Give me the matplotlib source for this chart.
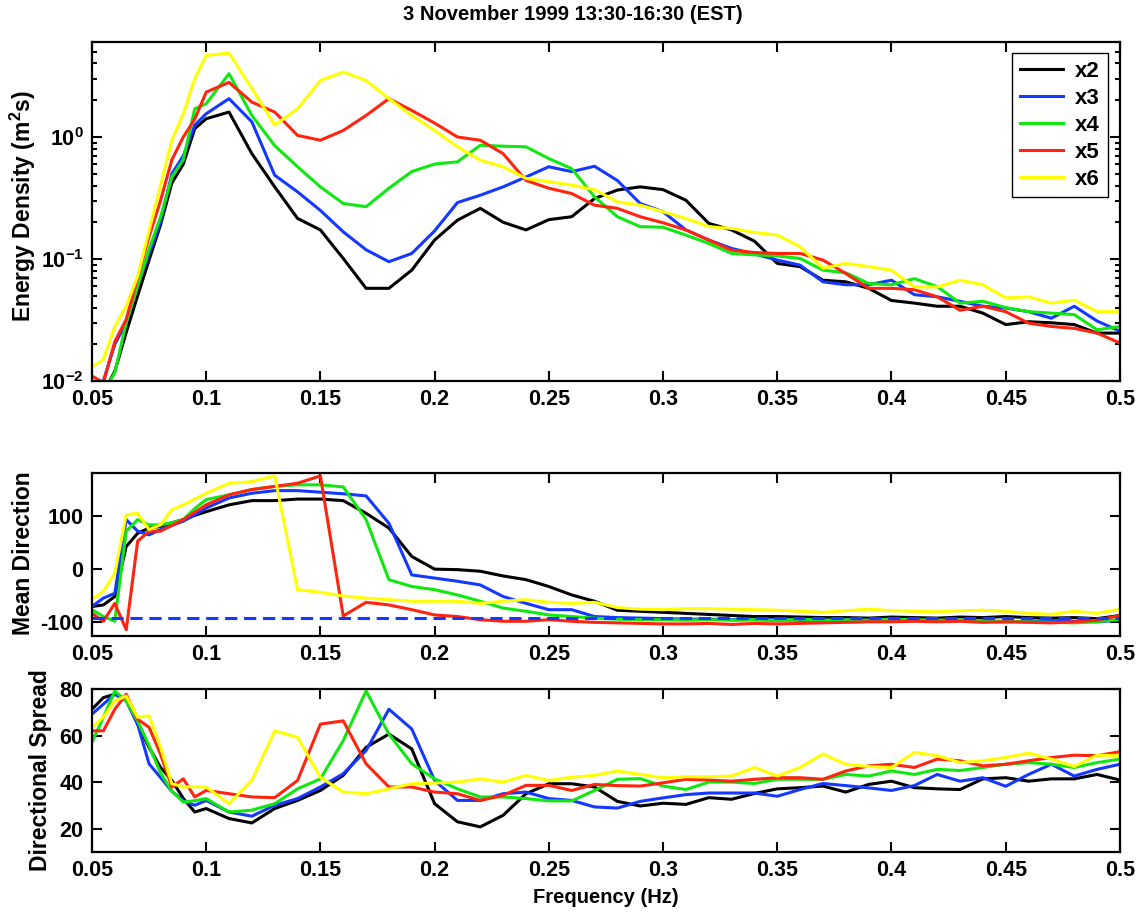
import matplotlib
matplotlib.use('Agg')
import matplotlib.pyplot as plt
from matplotlib.ticker import FixedLocator, FixedFormatter, LogLocator, NullFormatter, NullLocator

plt.rcParams['font.family'] = ['Liberation Sans', 'DejaVu Sans']
plt.rcParams['font.weight'] = 'bold'
plt.rcParams['axes.unicode_minus'] = False
plt.rcParams['mathtext.fontset'] = 'custom'
plt.rcParams['mathtext.bf'] = 'Liberation Sans:bold'
plt.rcParams['mathtext.rm'] = 'Liberation Sans:bold'
plt.rcParams['mathtext.default'] = 'bf'

# frequency bins (Hz)
freq = [0.05, 0.055, 0.06, 0.065, 0.07, 0.075, 0.08, 0.085, 0.09, 0.095, 0.1,
        0.11, 0.12, 0.13, 0.14, 0.15, 0.16, 0.17, 0.18, 0.19, 0.2,
        0.21, 0.22, 0.23, 0.24, 0.25, 0.26, 0.27, 0.28, 0.29, 0.3,
        0.31, 0.32, 0.33, 0.34, 0.35, 0.36, 0.37, 0.38, 0.39, 0.4,
        0.41, 0.42, 0.43, 0.44, 0.45, 0.46, 0.47, 0.48, 0.49, 0.5]

labels = ['x2', 'x3', 'x4', 'x5', 'x6']
colors = ['black', '#1438ff', '#10e810', '#ff2410', '#ffff00']

# energy density (m^2 s)
energy_x2 = [0.008, 0.008, 0.012, 0.025, 0.05, 0.098, 0.19, 0.42, 0.6, 1.17, 1.41,
             1.6, 0.73, 0.39, 0.215, 0.173, 0.101, 0.0575, 0.0575, 0.081, 0.143,
             0.208, 0.26, 0.2, 0.173, 0.21, 0.222, 0.313, 0.367, 0.39, 0.37,
             0.303, 0.196, 0.173, 0.14, 0.092, 0.0865, 0.067, 0.065, 0.0575, 0.0457,
             0.0435, 0.041, 0.041, 0.036, 0.029, 0.0306, 0.030, 0.029, 0.0247, 0.0247]
energy_x3 = [0.008, 0.01, 0.02, 0.03, 0.06, 0.11, 0.2, 0.5, 0.7, 1.25, 1.55,
             2.06, 1.33, 0.486, 0.355, 0.25, 0.167, 0.119, 0.095, 0.111, 0.17,
             0.29, 0.333, 0.39, 0.47, 0.57, 0.52, 0.575, 0.44, 0.285, 0.244,
             0.173, 0.143, 0.122, 0.11, 0.098, 0.089, 0.065, 0.0615, 0.0615, 0.067,
             0.051, 0.049, 0.045, 0.041, 0.0396, 0.037, 0.0327, 0.041, 0.031, 0.0256]
energy_x4 = [0.007, 0.008, 0.0117, 0.03, 0.06, 0.12, 0.22, 0.47, 0.65, 1.7, 1.87,
             3.3, 1.5, 0.85, 0.57, 0.39, 0.285, 0.268, 0.38, 0.52, 0.6,
             0.625, 0.855, 0.84, 0.83, 0.665, 0.55, 0.323, 0.222, 0.184, 0.182,
             0.157, 0.134, 0.111, 0.108, 0.106, 0.101, 0.081, 0.077, 0.063, 0.0615,
             0.069, 0.0594, 0.0435, 0.045, 0.040, 0.037, 0.036, 0.035, 0.0263, 0.028]
energy_x5 = [0.011, 0.0097, 0.021, 0.032, 0.07, 0.152, 0.3, 0.65, 1.0, 1.4, 2.33,
             2.8, 1.93, 1.6, 1.03, 0.94, 1.13, 1.5, 2.06, 1.65, 1.3,
             1.0, 0.94, 0.73, 0.44, 0.38, 0.344, 0.276, 0.26, 0.222, 0.198,
             0.173, 0.143, 0.118, 0.113, 0.111, 0.111, 0.098, 0.076, 0.0575, 0.0575,
             0.056, 0.049, 0.038, 0.041, 0.037, 0.0298, 0.028, 0.027, 0.0247, 0.0205]
energy_x6 = [0.013, 0.015, 0.028, 0.041, 0.072, 0.17, 0.4, 0.94, 1.55, 3.0, 4.65,
             4.86, 2.5, 1.25, 1.7, 2.9, 3.4, 2.9, 2.06, 1.5, 1.13,
             0.83, 0.645, 0.57, 0.457, 0.43, 0.403, 0.37, 0.294, 0.276, 0.244,
             0.215, 0.184, 0.178, 0.165, 0.157, 0.126, 0.084, 0.092, 0.0865, 0.081,
             0.059, 0.059, 0.067, 0.0615, 0.048, 0.049, 0.0435, 0.046, 0.037, 0.037]

# mean direction (deg)
dir_x2 = [-71, -68, -52, 43, 68, 78, 81, 88, 94, 102, 109,
          122, 130, 130, 133, 133, 130, 106, 78, 24, 0,
          -1, -4, -13, -20, -33, -49, -61, -78, -80, -82,
          -84, -86, -88, -90, -90, -91, -92, -92, -93, -91,
          -92, -93, -91, -92, -90, -92, -93, -92, -94, -88]
dir_x3 = [-71, -55, -46, 94, 72, 65, 75, 83, 91, 103, 116,
          135, 144, 149, 149, 146, 143, 139, 87, -11, -17,
          -23, -30, -52, -65, -77, -77, -90, -92, -93, -94,
          -95, -95, -96, -96, -96, -97, -97, -96, -97, -96,
          -97, -98, -97, -99, -100, -99, -98, -99, -100, -97]
dir_x4 = [-77, -90, -99, 72, 94, 84, 84, 88, 94, 115, 132,
          141, 151, 157, 160, 160, 156, 94, -20, -33, -39,
          -49, -61, -74, -80, -87, -90, -93, -95, -96, -96,
          -97, -96, -97, -96, -98, -95, -97, -96, -97, -95,
          -96, -97, -96, -98, -99, -100, -101, -102, -100, -95]
dir_x5 = [-84, -99, -65, -115, 53, 72, 72, 83, 94, 108, 122,
          141, 151, 157, 163, 177, -89, -63, -68, -77, -87,
          -90, -96, -99, -99, -96, -99, -101, -102, -103, -104,
          -104, -103, -105, -103, -104, -103, -102, -101, -100, -100,
          -99, -100, -99, -101, -100, -101, -102, -100, -97, -88]
dir_x6 = [-58, -42, -8, 103, 106, 75, 84, 113, 122, 133, 144,
          163, 166, 177, -39, -44, -51, -55, -58, -61, -61,
          -61, -65, -61, -58, -63, -65, -63, -73, -76, -77,
          -75, -75, -76, -77, -78, -80, -82, -79, -76, -79,
          -80, -81, -79, -78, -80, -84, -86, -80, -84, -76]
shore_normal = -92

# directional spread (deg)
spread_x2 = [71.4, 76.4, 77.9, 75.7, 65, 55, 46.4, 40.7, 33, 27.1, 28.6,
             24.3, 22.4, 28.6, 32.1, 36.4, 42.9, 55, 60.7, 54.3, 30.7,
             22.9, 20.7, 25.7, 35, 39.3, 39.3, 37.9, 31.7, 29.7, 30.9,
             30.4, 33.3, 32.6, 35.1, 37.1, 37.6, 38.3, 35.7, 39, 40.4,
             37.6, 37.1, 36.8, 41.4, 41.9, 40.4, 41.4, 41.4, 43.3, 40.9]
spread_x3 = [69.3, 73.6, 77.9, 75, 65, 47.9, 42, 36, 32, 30, 32.1,
             27.1, 25.3, 30, 32.9, 37.9, 43.6, 53.6, 71.4, 62.9, 40.7,
             32.1, 32.1, 35, 35.7, 32.9, 32.1, 29.3, 28.8, 31.7, 33.2,
             34.6, 35.3, 35.3, 35.3, 33.9, 36.8, 39.4, 38.5, 37.5, 36.4,
             38.5, 43.3, 40.4, 41.9, 38.2, 43.3, 47.7, 42.6, 45.5, 47.7]
spread_x4 = [57.1, 67.9, 79.3, 75, 66.4, 55.7, 44, 36, 31.4, 32, 32.9,
             27.1, 27.9, 30.7, 37.1, 41.4, 57.9, 79.3, 60.7, 47.9, 41.4,
             37.1, 33.6, 33.6, 32.9, 31.9, 31.9, 36.4, 41.2, 41.5, 38.3,
             36.8, 40, 40, 39.4, 41.2, 41.2, 41.2, 43.3, 42.6, 44.8,
             43.3, 45.5, 45, 46.3, 47.7, 48.4, 47.7, 46.3, 48.4, 49.9]
spread_x5 = [62.1, 62.1, 71.4, 77.9, 67.1, 63.6, 52.1, 37.9, 41.4, 33.6, 36.4,
             35, 33.6, 33.3, 40.7, 65, 66.4, 47.9, 37.9, 37.9, 35.7,
             35, 32.1, 34.3, 38.6, 38.6, 36.4, 39, 38.5, 38.3, 39.7,
             41.2, 40.9, 40.4, 41.2, 41.9, 41.9, 41.2, 44.8, 47, 47.7,
             46.3, 49.9, 49.2, 47, 47.7, 49.2, 50.6, 51.6, 51.4, 53.1]
spread_x6 = [63.6, 67.9, 75, 77.1, 67.9, 68.6, 55, 39.3, 37.9, 38, 37.9,
             30.7, 40.7, 62.1, 59.3, 42.1, 35.7, 35, 37.1, 39.3, 39.6,
             40, 41.4, 40, 42.9, 40.7, 42.1, 42.9, 44.8, 43.3, 41.9,
             42.3, 42.3, 42.6, 46.3, 42.6, 46.3, 52.1, 47.7, 46.7, 46.3,
             52.8, 51.4, 48.4, 49.2, 50.6, 52.5, 49.9, 46.7, 51.6, 51.4]

xticks = [0.05, 0.1, 0.15, 0.2, 0.25, 0.3, 0.35, 0.4, 0.45, 0.5]
xtick_labels = ['0.05', '0.1', '0.15', '0.2', '0.25', '0.3', '0.35', '0.4', '0.45', '0.5']
energy_ticks = [0.01, 0.1, 1]
energy_tick_labels = ['$10^{-2}$', '$10^{-1}$', '$10^{0}$']

TICK_FS = 15.5
YLABEL_FS = 16.5


def style_axis(ax):
    ax.set_xlim(0.05, 0.5)
    ax.xaxis.set_major_locator(FixedLocator(xticks))
    ax.xaxis.set_major_formatter(FixedFormatter(xtick_labels))
    ax.xaxis.set_minor_locator(NullLocator())
    ax.tick_params(which='both', direction='in', top=True, right=True,
                   width=1.5, labelsize=TICK_FS)
    ax.tick_params(which='major', length=7, pad=6)
    ax.tick_params(which='minor', length=3.5)
    for sp in ax.spines.values():
        sp.set_linewidth(1.6)


def main():
    fig = plt.figure(figsize=(11.45, 9.17), dpi=100)
    ax1 = fig.add_axes([0.0803, 0.5845, 0.8978, 0.3697])
    ax2 = fig.add_axes([0.0803, 0.3064, 0.8978, 0.1781])
    ax3 = fig.add_axes([0.0803, 0.0712, 0.8978, 0.1771])

    energies = [energy_x2, energy_x3, energy_x4, energy_x5, energy_x6]
    directions = [dir_x2, dir_x3, dir_x4, dir_x5, dir_x6]
    spreads = [spread_x2, spread_x3, spread_x4, spread_x5, spread_x6]

    for lab, col, e, d, s in zip(labels, colors, energies, directions, spreads):
        ax1.plot(freq, e, color=col, lw=2.2, label=lab)
        ax2.plot(freq, d, color=col, lw=2.2)
        ax3.plot(freq, s, color=col, lw=2.2)
    ax2.axhline(shore_normal, color='#1438ff', lw=2.2, linestyle=(0, (4, 2.2)))

    ax1.set_yscale('log')
    ax1.set_ylim(0.01, 6)
    style_axis(ax1)
    ax1.yaxis.set_major_locator(FixedLocator(energy_ticks))
    ax1.yaxis.set_major_formatter(FixedFormatter(energy_tick_labels))
    ax1.yaxis.set_minor_locator(LogLocator(base=10, subs=range(2, 10)))
    ax1.yaxis.set_minor_formatter(NullFormatter())
    ax1.set_ylabel('Energy Density (m$^{2}$s)', fontsize=YLABEL_FS, fontweight='bold')
    ax1.yaxis.set_label_coords(-0.0525, 0.516)
    leg = ax1.legend(loc='upper right', bbox_to_anchor=(0.988, 0.968),
                     borderaxespad=0, fancybox=False, framealpha=1,
                     edgecolor='black', fontsize=16, handlelength=1.95,
                     labelspacing=0.27, borderpad=0.35, handletextpad=0.55)
    leg.get_frame().set_linewidth(1.0)
    for t in leg.get_texts():
        t.set_fontweight('bold')

    ax2.set_ylim(-127, 183)
    style_axis(ax2)
    ax2.set_yticks([-100, 0, 100])
    ax2.set_ylabel('Mean Direction', fontsize=YLABEL_FS, fontweight='bold')
    ax2.yaxis.set_label_coords(-0.0554, 0.508)

    ax3.set_ylim(10, 80)
    style_axis(ax3)
    ax3.set_yticks([20, 40, 60, 80])
    ax3.set_ylabel('Directional Spread', fontsize=YLABEL_FS, fontweight='bold')
    ax3.yaxis.set_label_coords(-0.039, 0.503)
    ax3.set_xlabel('Frequency (Hz)', fontsize=14.5, fontweight='bold', labelpad=5)

    fig.text(0.5, 0.984, '3 November 1999 13:30-16:30 (EST)', ha='center', va='center',
             fontsize=14.5, fontweight='bold')

    fig.savefig('out.png', dpi=100)


if __name__ == '__main__':
    main()
